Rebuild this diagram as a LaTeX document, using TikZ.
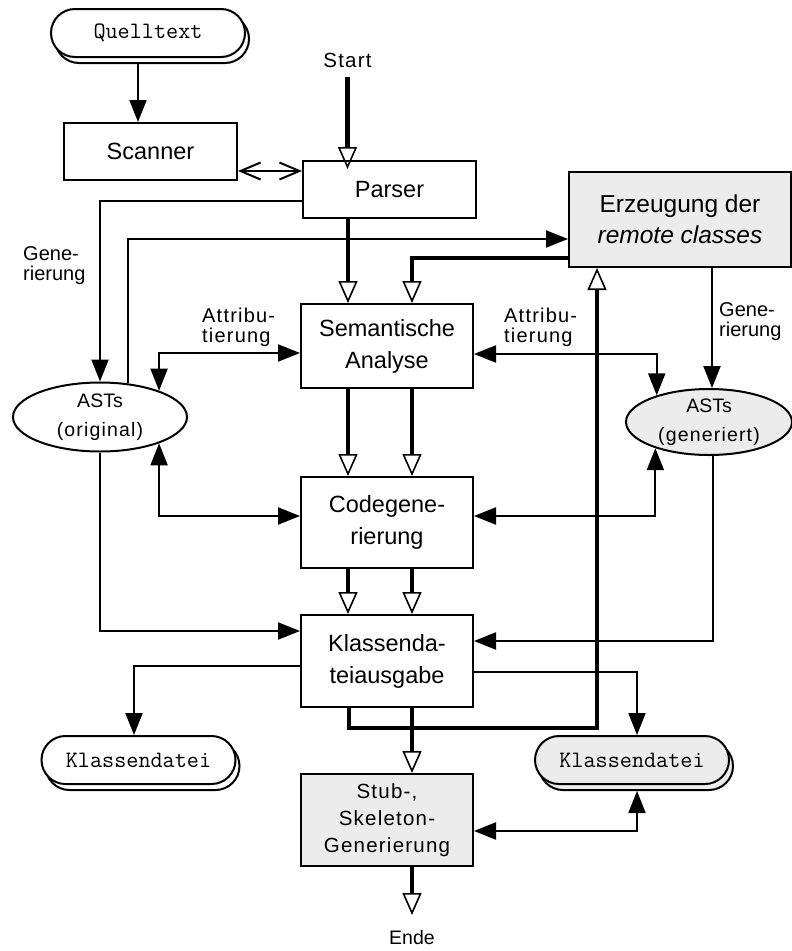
\documentclass[tikz,border=0pt]{standalone}
\usepackage{fontspec}
\setmainfont{Liberation Sans}
\newfontfamily\trackedfont[LetterSpace=6]{Liberation Sans}
\usetikzlibrary{arrows.meta,shapes.misc,shapes.geometric,shadows}

\definecolor{panel}{RGB}{236,236,236}

\tikzset{
  box/.style={draw, line width=2pt, inner sep=0pt, align=center,
    font=\fontsize{23.5}{32}\selectfont},
  blob/.style={ellipse, draw, line width=2pt, inner sep=0pt, align=center,
    font=\fontsize{19.5}{29}\selectfont},
  pill/.style={rounded rectangle, draw, line width=2pt, fill=#1,
    minimum width=194pt, minimum height=48pt, inner sep=0pt,
    font=\ttfamily\fontsize{23.5}{24}\selectfont,
    copy shadow={shadow xshift=4pt, shadow yshift=-6pt, draw=black,
      line width=2pt, fill=#1}},
  pill/.default=white,
  note/.style={inner sep=0pt, align=left, font=\fontsize{20}{20}\selectfont},
  link/.style={line width=2pt, -{Triangle[length=22pt,width=17pt]}},
  twoway/.style={line width=2pt,
    {Triangle[length=22pt,width=17pt]}-{Triangle[length=22pt,width=17pt]}},
  flow/.style={line width=4.8pt,
    -{Triangle[open,length=22pt,width=19pt,line width=1.6pt]}},
  swap/.style={line width=2pt,
    {Straight Barb[length=20pt,width=17pt]}-{Straight Barb[length=20pt,width=17pt]}},
}

\begin{document}
\begin{tikzpicture}[x=1pt,y=-1pt]
\useasboundingbox (0,0) rectangle (792,951);

% files
\node[pill] (quell) at (148,33) {Quelltext};
\node[pill] (kdL) at (138.5,760) {Klassendatei};
\node[pill=panel] (kdR) at (632,760) {Klassendatei};

% processing stages
\node[box, minimum width=173pt, minimum height=57pt] (scanner) at (150.5,151.5) {Scanner};
\node[box, minimum width=173pt, minimum height=57pt] (parser) at (389.5,189.5) {Parser};
\node[box, fill=panel, minimum width=222pt, minimum height=95pt,
  font=\fontsize{24.5}{31}\selectfont] (erz) at (680,219.5)
  {Erzeugung der\\\textit{remote classes}};
\node[box, minimum width=172pt, minimum height=84pt] (sem) at (387,346) {Semantische\\Analyse};
\node[box, minimum width=172pt, minimum height=91pt] (code) at (387,522.5) {Codegene-\\rierung};
\node[box, minimum width=172pt, minimum height=92pt] (klas) at (387,661) {Klassenda-\\teiausgabe};
\node[box, fill=panel, minimum width=172pt, minimum height=92pt,
  font=\trackedfont\fontsize{20.5}{27}\selectfont] (stub) at (387,820)
  {Stub-,\\Skeleton-\\Generierung};

% syntax trees
\node[blob, minimum width=174pt, minimum height=69pt] (astO) at (100,417)
  {ASTs\\{\trackedfont (original)}};
\node[blob, fill=panel, minimum width=166pt, minimum height=66pt] (astG) at (709,422)
  {ASTs\\{\trackedfont (generiert)}};

% terminals
\node[inner sep=0pt, anchor=south, font=\trackedfont\fontsize{20.5}{24}\selectfont] (start) at (347.5,68) {Start};
\node[inner sep=0pt, anchor=north, font=\fontsize{19.5}{24}\selectfont] (ende) at (412,930) {Ende};

% edge labels
\node[note, anchor=west] (genL) at (23,266) {Gene-\\rierung};
\node[note, anchor=west] (genR) at (719,322) {Gene-\\rierung};
\node[note, anchor=west, font=\trackedfont\fontsize{20}{20}\selectfont] (attrL) at (202,327) {Attribu-\\tierung};
\node[note, anchor=west, font=\trackedfont\fontsize{20}{20}\selectfont] (attrR) at (504,327) {Attribu-\\tierung};

% thin connectors
\draw[link] ([xshift=-10pt,yshift=-6pt]quell.south) -- ([xshift=-10pt]quell.south |- scanner.north);
\draw[swap] ([yshift=-19.5pt]scanner.east) -- ([yshift=-19.5pt]scanner.east -| parser.west);
\draw[link] ([yshift=-11.5pt]parser.west) -| (astO.north);
\draw[link] (astO.50.5) |- ([yshift=-19.5pt]erz.west);
\draw[twoway] ([yshift=-7pt]sem.west) -| (astO.24.6);
\draw[twoway] ([yshift=6.5pt]code.west) -| (astO.-24.6);
\draw[link] (astO.south) |- ([yshift=30pt]klas.west);
\draw[link] ([yshift=-5pt]klas.west) -| ([xshift=-4.5pt]kdL.north);
\draw[link] ([xshift=32pt]erz.south) -- ([xshift=32pt]erz.south |- astG.north);
\draw[twoway] ([yshift=-8pt]sem.east) -| (astG.153.7);
\draw[twoway] ([yshift=6.5pt]code.east) -| (astG.206.3);
\draw[link] ([xshift=4pt]astG.south) |- ([yshift=20pt]klas.east);
\draw[link] ([yshift=-11pt]klas.east) -| ([xshift=5pt]kdR.north);
\draw[twoway] ([yshift=-11pt]stub.east) -| ([xshift=5pt,yshift=-6pt]kdR.south);

% main control flow
\draw[flow] ([yshift=-9pt]start.south) -- ([yshift=-9pt]start.south |- parser.north);
\draw[flow] ([xshift=-41.5pt]parser.south) -- ([xshift=-41.5pt]parser.south |- sem.north);
\draw[flow] ([yshift=-38.5pt]erz.west) -| ([xshift=25pt]sem.north);
\draw[flow] ([xshift=-39pt]sem.south) -- ([xshift=-39pt]sem.south |- code.north);
\draw[flow] ([xshift=25pt]sem.south) -- ([xshift=25pt]sem.south |- code.north);
\draw[flow] ([xshift=-39pt]code.south) -- ([xshift=-39pt]code.south |- klas.north);
\draw[flow] ([xshift=25pt]code.south) -- ([xshift=25pt]code.south |- klas.north);
\draw[flow] ([xshift=-38pt]klas.south) -- ++(0,20) -| ([xshift=-83pt]erz.south);
\draw[flow] ([xshift=25pt]klas.south) -- ([xshift=25pt]klas.south |- stub.north);
\draw[flow] ([xshift=25pt]stub.south) -- ([yshift=15pt]ende.north);
\end{tikzpicture}
\end{document}
